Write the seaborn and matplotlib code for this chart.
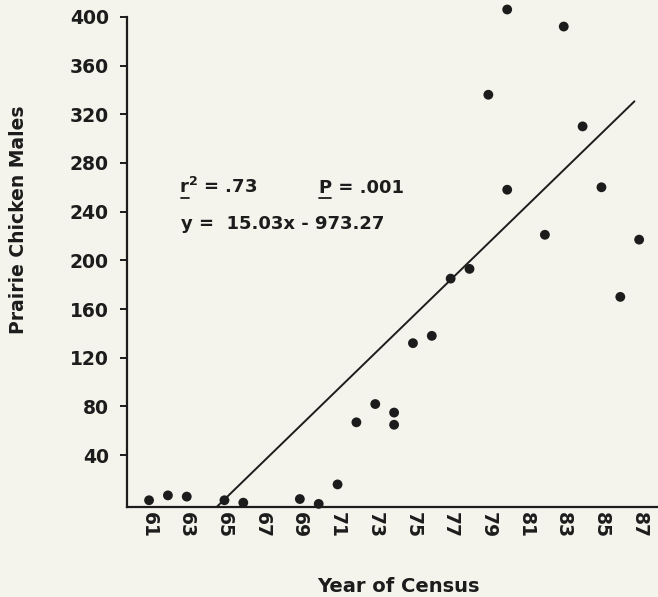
import matplotlib
matplotlib.use("Agg")
import matplotlib.pyplot as plt
from matplotlib.lines import Line2D
import seaborn as sns
import pandas as pd

# Census counts of prairie chicken males by year
years = [61, 62, 63, 65, 66, 69, 70, 71, 72, 73, 74, 74, 75, 76, 77, 78,
         79, 80, 80, 82, 83, 84, 85, 86, 87]
males = [3, 7, 6, 3, 1, 4, 0, 16, 67, 82, 75, 65, 132, 138, 185, 193,
         336, 406, 258, 221, 392, 310, 260, 170, 217]

# Regression reported with the census
slope = 15.03
intercept = -973.27
r_squared = ".73"
p_value = ".001"

x_ticks = [61, 63, 65, 67, 69, 71, 73, 75, 77, 79, 81, 83, 85, 87]
y_ticks = [40, 80, 120, 160, 200, 240, 280, 320, 360, 400]

sns.set_style("ticks")
plt.rcParams["font.family"] = ["DejaVu Sans"]
plt.rcParams["mathtext.fontset"] = "dejavusans"

bg = "#f4f4ec"
ink = "#1c1c1c"

fig = plt.figure(figsize=(6.58, 5.97), dpi=100, facecolor=bg)
W, H = 658, 597
left, right, top, bottom = 127, 658, 16.8, 506.7
ax = fig.add_axes([left / W, (H - bottom) / H, (right - left) / W, (bottom - top) / H])
ax.set_facecolor(bg)

ymin, ymax = -2.3, 400
xmin, xmax = 59.83, 88.0

df = pd.DataFrame({"year": years, "males": males})
sns.scatterplot(data=df, x="year", y="males", ax=ax, color=ink, s=50,
                edgecolor="none", zorder=3, clip_on=False)

x0 = (ymin - intercept) / slope
fit = pd.DataFrame({"year": [x0, 86.75]})
fit["males"] = slope * fit["year"] + intercept
sns.lineplot(data=fit, x="year", y="males", ax=ax, color=ink, linewidth=1.4)

ax.set_xlim(xmin, xmax)
ax.set_ylim(ymin, ymax)

ax.set_xticks(x_ticks)
ax.set_xticklabels([str(t) for t in x_ticks], rotation=270,
                   fontsize=13.5, fontweight="bold", color=ink)
ax.set_yticks(y_ticks)
ax.set_yticklabels([str(t) for t in y_ticks], fontsize=13.5,
                   fontweight="bold", color=ink)
ax.tick_params(axis="x", length=0, pad=4)
ax.tick_params(axis="y", length=5, width=1.4, color=ink, pad=8, direction="out")

for side in ("top", "right"):
    ax.spines[side].set_visible(False)
for side in ("left", "bottom"):
    ax.spines[side].set_linewidth(1.6)
    ax.spines[side].set_color(ink)

ax.set_xlabel("Year of Census", fontsize=14, fontweight="bold", color=ink)
ax.set_ylabel("Prairie Chicken Males", fontsize=13.5, fontweight="bold", color=ink)
ax.xaxis.set_label_coords((398.5 - left) / (right - left), -(577 - bottom) / (bottom - top))
ax.yaxis.set_label_coords(-(127 - 28) / (right - left), (bottom - 219.5) / (bottom - top))

# Statistics block; the variable symbols r and P are underlined
txt = dict(fontsize=13, fontweight="bold", color=ink, va="baseline", ha="left")
row1_y, row2_y = 255.3, 225.7
r_x, p_x = 62.6, 70.0
ax.text(r_x, row1_y, r"$\mathbf{r}^{\mathbf{2}}$ = " + r_squared, **txt)
ax.text(p_x, row1_y, "P = " + p_value, **txt)
ax.text(62.68, row2_y, f"y =  {slope:.2f}x - {abs(intercept):.2f}", **txt)

fig.canvas.draw()
renderer = fig.canvas.get_renderer()
for sym, sx, shift in (("r", r_x, 1.5), ("P", p_x, 0.0)):
    probe = ax.text(sx, row1_y, sym, **txt)
    bb = probe.get_window_extent(renderer)
    probe.remove()
    bx, by = ax.transData.transform((sx, row1_y))
    inv = ax.transData.inverted()
    (ux0, uy), (ux1, _) = inv.transform([(bb.x0 + 0.5 + shift, by - 4.5),
                                         (bb.x1 - 0.5 + shift, by - 4.5)])
    ax.add_line(Line2D([ux0, ux1], [uy, uy], color=ink, linewidth=1.3, clip_on=False))

fig.savefig("out.png", dpi=100, facecolor=bg)
